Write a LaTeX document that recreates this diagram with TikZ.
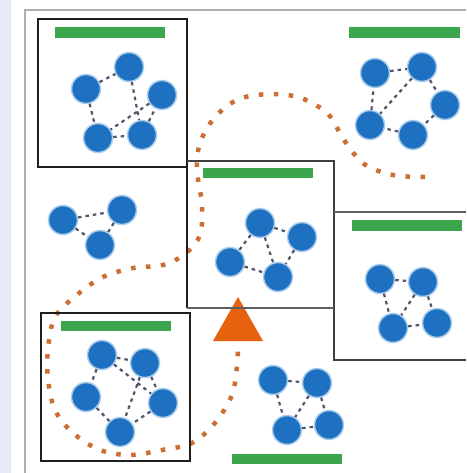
\documentclass[tikz,border=0pt]{standalone}
\usetikzlibrary{calc}
\definecolor{lav}{RGB}{232,234,248}
\definecolor{frame}{RGB}{175,175,178}
\definecolor{nodeblue}{RGB}{30,112,192}
\definecolor{halo}{RGB}{170,205,238}
\definecolor{edgegray}{RGB}{80,85,105}
\definecolor{bargreen}{RGB}{60,166,76}
\definecolor{dotorange}{RGB}{205,110,50}
\definecolor{triorange}{RGB}{230,98,14}
\definecolor{boxdark}{RGB}{30,30,30}
\definecolor{linegray}{RGB}{95,95,95}
\tikzset{
  nd/.style={circle, fill=nodeblue, draw=halo, line width=1.5pt, minimum size=29pt, inner sep=0pt},
  ed/.style={draw=edgegray, line width=2.2pt, dash pattern=on 3.5pt off 4pt},
  bar/.style={fill=bargreen},
  boxline/.style={draw=boxdark, line width=2.8pt},
  grayline/.style={draw=linegray, line width=2.8pt},
  pathdots/.style={draw=dotorange, line width=4.5pt, dash pattern=on 4.5pt off 10.5pt},
}
\begin{document}
\begin{tikzpicture}[x=1pt,y=-1pt]
\useasboundingbox (0,0) rectangle (466,473);
\fill[white] (0,0) rectangle (466,473);
\fill[lav] (0,0) rectangle (11,473);
\draw[frame, line width=2pt] (25,473) -- (25,10) -- (466,10);

% orange dotted trajectory
\draw[pathdots] plot[smooth, tension=0.55] coordinates {
 (425,177) (393,175) (364,164) (344,140) (328,114) (301,98) (271,94) (239,99)
 (215,117) (200,143) (197,170) (202,205) (200,235) (185,254) (163,265)
 (133,268) (103,277) (78,294) (55,317) (48,349) (48,379) (55,410) (73,433)
 (100,450) (130,455) (162,450) (192,443) (215,423) (232,395) (237,366) (238,345)};

% boxes
\draw[boxline] (38,19) rectangle (187,167);
\draw[boxline] (187,308) -- (187,161);
\draw[draw=boxdark!85, line width=2.8pt] (187,161) -- (334,161) -- (334,360) -- (466,360);
\draw[grayline] (334,212) -- (466,212);
\draw[boxline] (41,313) rectangle (190,461);

% green bars
\fill[bar] (55,27) rectangle (165,38);
\fill[bar] (349,27) rectangle (460,38);
\fill[bar] (203,168) rectangle (313,178);
\fill[bar] (352,220) rectangle (462,231);
\fill[bar] (61,321) rectangle (171,331);
\fill[bar] (232,454) rectangle (342,464);

% triangle marker
\coordinate (tri) at (238,297);
\fill[triorange] (213,341) -- (263,341) -- (tri) -- cycle;
\draw[grayline] (187,308) -- (334,308);

% cluster top-left
\node[nd] (a1) at (86,89) {};
\node[nd] (a2) at (129,67) {};
\node[nd] (a3) at (162,95) {};
\node[nd] (a4) at (98,138) {};
\node[nd] (a5) at (142,135) {};
\draw[ed] (a1)--(a2) (a1)--(a4) (a4)--(a5) (a5)--(a3) (a3)--(a4) (a2)--(a5);

% cluster top-right
\node[nd] (b1) at (375,73) {};
\node[nd] (b2) at (422,67) {};
\node[nd] (b3) at (445,105) {};
\node[nd] (b4) at (370,125) {};
\node[nd] (b5) at (413,135) {};
\draw[ed] (b1)--(b2) (b2)--(b3) (b3)--(b5) (b5)--(b4) (b4)--(b1) (b2)--(b4);

% cluster left-middle
\node[nd] (c1) at (63,220) {};
\node[nd] (c2) at (122,210) {};
\node[nd] (c3) at (100,245) {};
\draw[ed] (c1)--(c2) (c2)--(c3) (c1)--(c3);

% cluster middle
\node[nd] (d1) at (260,223) {};
\node[nd] (d2) at (302,237) {};
\node[nd] (d3) at (230,262) {};
\node[nd] (d4) at (278,277) {};
\draw[ed] (d1)--(d2) (d1)--(d3) (d1)--(d4) (d3)--(d4) (d2)--(d4);

% cluster right
\node[nd] (e1) at (380,279) {};
\node[nd] (e2) at (423,282) {};
\node[nd] (e3) at (393,328) {};
\node[nd] (e4) at (437,323) {};
\draw[ed] (e1)--(e2) (e1)--(e3) (e2)--(e3) (e2)--(e4) (e3)--(e4);

% cluster bottom-left
\node[nd] (f1) at (102,355) {};
\node[nd] (f2) at (145,363) {};
\node[nd] (f3) at (86,397) {};
\node[nd] (f4) at (163,403) {};
\node[nd] (f5) at (120,432) {};
\draw[ed] (f1)--(f2) (f1)--(f3) (f1)--(f4) (f2)--(f4) (f2)--(f5) (f3)--(f5) (f4)--(f5);

% cluster bottom
\node[nd] (g1) at (273,380) {};
\node[nd] (g2) at (317,383) {};
\node[nd] (g3) at (287,430) {};
\node[nd] (g4) at (329,425) {};
\draw[ed] (g1)--(g2) (g1)--(g3) (g2)--(g3) (g2)--(g4) (g3)--(g4);
\end{tikzpicture}
\end{document}
